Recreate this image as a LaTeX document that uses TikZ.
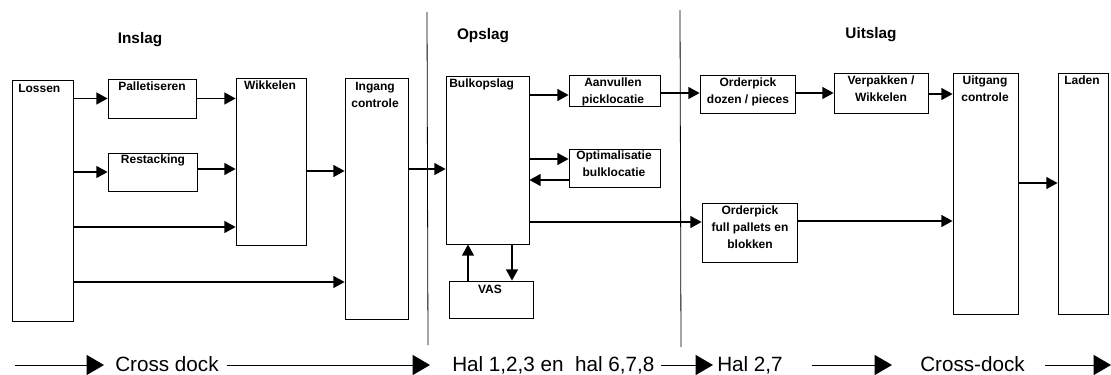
\documentclass[tikz,border=0pt]{standalone}
\usepackage{fontspec}
\setmainfont{Liberation Sans}
\usetikzlibrary{arrows.meta,fit}
\begin{document}
\begin{tikzpicture}[x=0.75pt,y=-0.75pt,
 box/.style={draw,line width=0.6pt,inner sep=0pt},
 txt/.style={font=\fontsize{9}{12.5}\selectfont\bfseries,inner sep=0pt,align=center},
 head/.style={font=\fontsize{11.5}{14}\selectfont\bfseries,inner sep=0pt},
 foot/.style={font=\fontsize{15.5}{18}\selectfont,inner sep=0pt},
 arr/.style={line width=1.2pt,-{Triangle[length=8.5pt,width=9pt]}},
 bigarr/.style={line width=0.75pt,-{Triangle[length=13pt,width=15pt]}},
 divider/.style={line width=0.6pt}]
\useasboundingbox (0,0) rectangle (1111,375);

% dividers
\coordinate (d1t) at (427,12); \coordinate (d1b) at (428,345);
\coordinate (d2t) at (680,10); \coordinate (d2b) at (681,347);
\draw[divider] (d1t) -- (d1b);
\draw[divider] (d2t) -- (d2b);

% headers
\node[head,anchor=base] (hin) at (140,43) {Inslag};
\node[head,anchor=base] (hop) at (483,39) {Opslag};
\node[head,anchor=base] (hut) at (871,38) {Uitslag};

% boxes
\node[box,fit={(12,80) (73,321)}] (los) {};
\node[box,fit={(108,79) (196,118)}] (pal) {};
\node[box,fit={(108,153) (197,191)}] (res) {};
\node[box,fit={(236,78) (306,245)}] (wik) {};
\node[box,fit={(345,78) (408,319)}] (ing) {};
\node[box,fit={(446,76) (529,244)}] (bulk) {};
\node[box,fit={(569,75) (660,106)}] (aan) {};
\node[box,fit={(569,149) (660,187)}] (opt) {};
\node[box,fit={(449,281) (533,318)}] (vas) {};
\node[box,fit={(700,75) (795,113)}] (odz) {};
\node[box,fit={(834,73) (928,113)}] (ver) {};
\node[box,fit={(953,73) (1018,314)}] (uit) {};
\node[box,fit={(1058,73) (1108,314)}] (lad) {};
\node[box,fit={(702,203) (797,262)}] (ofp) {};

% box texts
\node[txt,anchor=north west] (losT) at (18,84) {Lossen};
\node[txt,anchor=north] (palT) at (152,82) {Palletiseren};
\node[txt,anchor=north] (resT) at (153,155) {Restacking};
\node[txt,anchor=north] (wikT) at (270,81) {Wikkelen};
\node[txt,anchor=north] (ingT) at (375,82) {Ingang\\controle};
\node[txt,anchor=north west] (bulkT) at (449,79) {Bulkopslag};
\node[txt,anchor=north] (aanT) at (613,78) {Aanvullen\\picklocatie};
\node[txt,anchor=north] (optT) at (614,151) {Optimalisatie\\bulklocatie};
\node[txt,anchor=north] (vasT) at (490,285) {VAS};
\node[txt,anchor=north] (odzT) at (748,78) {Orderpick\\dozen / pieces};
\node[txt,anchor=north] (verT) at (881,76) {Verpakken /\\Wikkelen};
\node[txt,anchor=north] (uitT) at (985,76) {Uitgang\\controle};
\node[txt,anchor=north west] (ladT) at (1064,76) {Laden};
\node[txt,anchor=north] (ofpT) at (750,206) {Orderpick\\full pallets en\\blokken};

% levels for connectors
\coordinate (y227) at (0,227);
\coordinate (y282) at (0,282);
\coordinate (y171) at (0,171);
\coordinate (y169) at (0,169);
\coordinate (y95) at (0,95);
\coordinate (y159) at (0,159);
\coordinate (y180) at (0,180);
\coordinate (y222) at (0,222);
\coordinate (y93) at (0,93);
\coordinate (y94) at (0,94);
\coordinate (y183) at (0,183);
\coordinate (y221) at (0,221);
\coordinate (x468) at (468,0);
\coordinate (x512) at (512,0);

% connectors
\draw[arr] (los.east |- pal.west) -- (pal.west);
\draw[arr] (los.east |- res.west) -- (res.west);
\draw[arr] (pal.east) -- (pal.east -| wik.west);
\draw[arr] (res.east |- y169) -- (wik.west |- y169);
\draw[arr] (los.east |- y227) -- (wik.west |- y227);
\draw[arr] (los.east |- y282) -- (ing.west |- y282);
\draw[arr] (wik.east |- y171) -- (ing.west |- y171);
\draw[arr] (ing.east |- y169) -- (bulk.west |- y169);
\draw[arr] (bulk.east |- y95) -- (aan.west |- y95);
\draw[arr] (bulk.east |- y159) -- (opt.west |- y159);
\draw[arr] (opt.west |- y180) -- (bulk.east |- y180);
\draw[arr] (bulk.east |- y222) -- (ofp.west |- y222);
\draw[arr] (x468 |- vas.north) -- (x468 |- bulk.south);
\draw[arr] (x512 |- bulk.south) -- (x512 |- vas.north);
\draw[arr] (aan.east |- y93) -- (odz.west |- y93);
\draw[arr] (odz.east |- y93) -- (ver.west |- y93);
\draw[arr] (ver.east |- y94) -- (uit.west |- y94);
\draw[arr] (uit.east |- y183) -- (lad.west |- y183);
\draw[arr] (ofp.east |- y221) -- (uit.west |- y221);

% bottom row
\node[foot,anchor=base west] (f1) at (115,371) {Cross dock};
\node[foot,anchor=base west] (f2) at (452,371) {Hal 1,2,3 en\ \ hal 6,7,8};
\node[foot,anchor=base west] (f3) at (717,371) {Hal 2,7};
\node[foot,anchor=base west] (f4) at (920,371) {Cross-dock};
\coordinate (b0) at (15,365);
\coordinate (b1) at (104,365);
\coordinate (b2) at (227,365);
\coordinate (b3) at (430,365);
\coordinate (b4) at (661,365);
\coordinate (b5) at (713,365);
\coordinate (b6) at (812,365);
\coordinate (b7) at (892,365);
\coordinate (b8) at (1045,365);
\coordinate (b9) at (1111,365);
\draw[bigarr] (b0) -- (b1);
\draw[bigarr] (b2) -- (b3);
\draw[bigarr] (b4) -- (b5);
\draw[bigarr] (b6) -- (b7);
\draw[bigarr] (b8) -- (b9);
\end{tikzpicture}
\end{document}
